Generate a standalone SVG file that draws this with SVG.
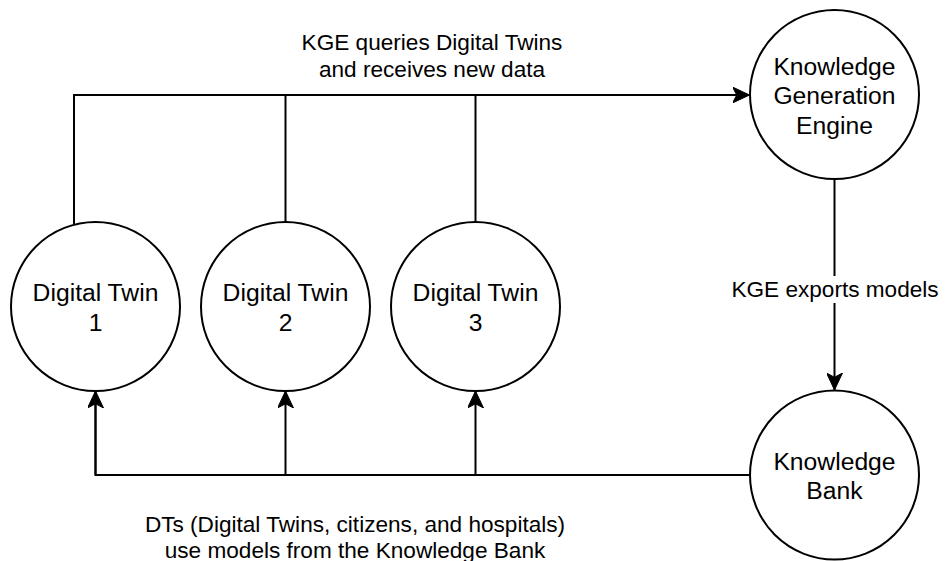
<svg xmlns="http://www.w3.org/2000/svg" width="945" height="561" viewBox="0 0 945 561">
  <style>
    .node { fill: #ffffff; stroke: #000000; stroke-width: 2; }
    .edge { fill: none; stroke: #000000; stroke-width: 2; }
    .nlabel { font-family: "Liberation Sans", Arial, Helvetica, sans-serif; font-size: 24.7px; fill: #000000; text-anchor: middle; }
    .elabel { font-family: "Liberation Sans", Arial, Helvetica, sans-serif; font-size: 22.6px; fill: #000000; text-anchor: middle; }
  </style>
  <defs>
    <marker id="arrow" viewBox="0 0 17 16" refX="17" refY="8" markerWidth="17" markerHeight="16" markerUnits="userSpaceOnUse" orient="auto">
      <path d="M17 8 L0 0 L4.25 8 L0 16 Z" fill="#000000" stroke="#000000" stroke-width="1" stroke-linejoin="miter"/>
    </marker>
  </defs>
  <rect x="0" y="0" width="945" height="561" fill="#ffffff"/>

  <!-- connectors -->
  <g id="connectors">
    <!-- Digital Twins to Knowledge Generation Engine -->
    <path class="edge" d="M74 224 L74 95 L749.5 95" marker-end="url(#arrow)"/>
    <path class="edge" d="M285.5 222 L285.5 95"/>
    <path class="edge" d="M475.5 222 L475.5 95"/>
    <!-- Knowledge Generation Engine to Knowledge Bank -->
    <path class="edge" d="M834.5 179 L834.5 390" marker-end="url(#arrow)"/>
    <!-- Knowledge Bank to Digital Twins -->
    <path class="edge" d="M749.5 475 L95.5 475 L95.5 391"/>
    <path class="edge" d="M95.5 475 L95.5 391" marker-end="url(#arrow)"/>
    <path class="edge" d="M285.5 475 L285.5 391" marker-end="url(#arrow)"/>
    <path class="edge" d="M475.5 475 L475.5 391" marker-end="url(#arrow)"/>

    <!-- edge labels -->
    <text class="elabel" x="432" y="50">KGE queries Digital Twins</text>
    <text class="elabel" x="432" y="76.7">and receives new data</text>
    <rect x="729" y="276" width="212" height="27" fill="#ffffff"/>
    <text class="elabel" x="835" y="296.7">KGE exports models</text>
    <text class="elabel" x="355" y="531.7">DTs (Digital Twins, citizens, and hospitals)</text>
    <text class="elabel" x="355" y="557.5">use models from the Knowledge Bank</text>
  </g>

  <!-- nodes -->
  <g id="digital-twin-1">
    <circle class="node" cx="95.5" cy="306.5" r="84.5"/>
    <text class="nlabel" x="95.5" y="301">Digital Twin</text>
    <text class="nlabel" x="95.5" y="330.5">1</text>
  </g>
  <g id="digital-twin-2">
    <circle class="node" cx="285.5" cy="306.5" r="84.5"/>
    <text class="nlabel" x="285.5" y="301">Digital Twin</text>
    <text class="nlabel" x="285.5" y="330.5">2</text>
  </g>
  <g id="digital-twin-3">
    <circle class="node" cx="475.5" cy="306.5" r="84.5"/>
    <text class="nlabel" x="475.5" y="301">Digital Twin</text>
    <text class="nlabel" x="475.5" y="330.5">3</text>
  </g>
  <g id="knowledge-generation-engine">
    <circle class="node" cx="834.5" cy="94.5" r="84.5"/>
    <text class="nlabel" x="834.5" y="74.5">Knowledge</text>
    <text class="nlabel" x="834.5" y="104">Generation</text>
    <text class="nlabel" x="834.5" y="133.5">Engine</text>
  </g>
  <g id="knowledge-bank">
    <circle class="node" cx="834.5" cy="475" r="84.5"/>
    <text class="nlabel" x="834.5" y="470">Knowledge</text>
    <text class="nlabel" x="834.5" y="499">Bank</text>
  </g>
</svg>
